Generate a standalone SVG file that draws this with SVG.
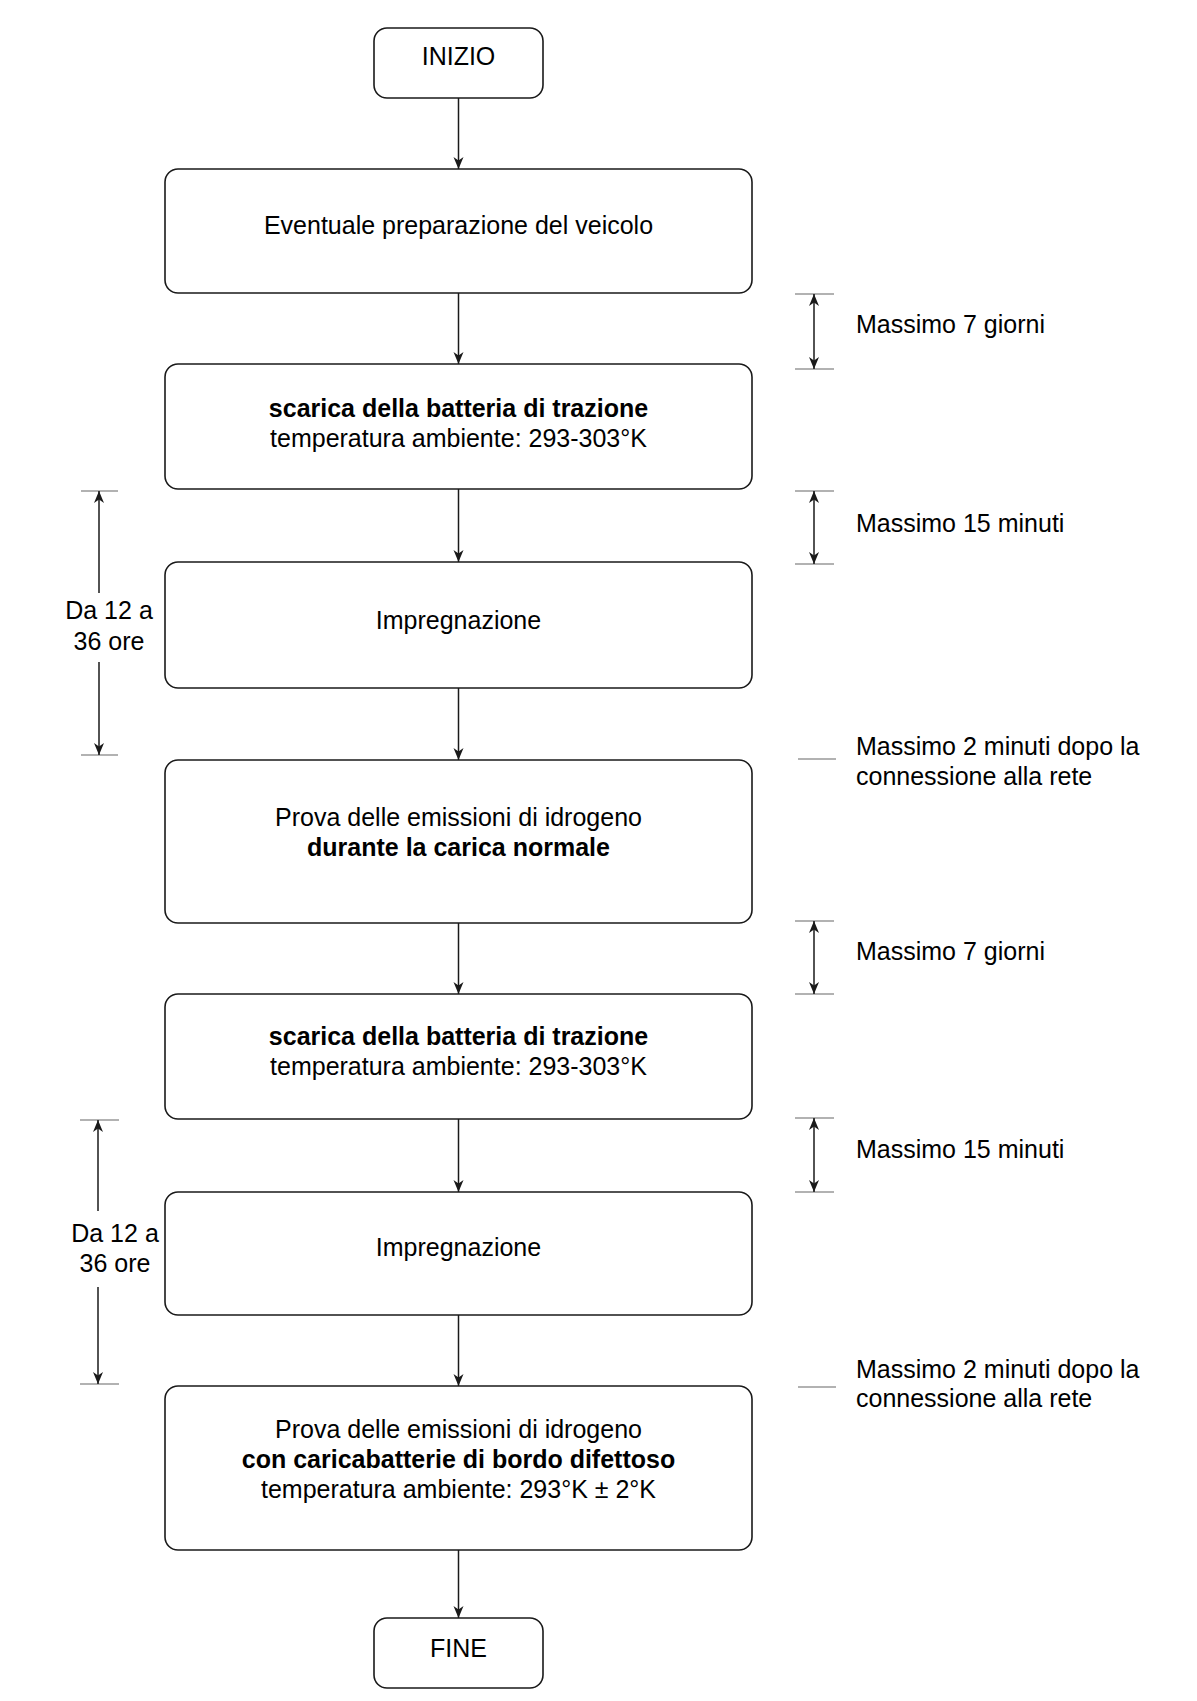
<svg xmlns="http://www.w3.org/2000/svg" width="1197" height="1701" viewBox="0 0 1197 1701">
<style>
  .box { fill: #ffffff; stroke: #1a1a1a; stroke-width: 1.6; }
  .t { font-family: "Liberation Sans", Arial, Helvetica, sans-serif; font-size: 25px; fill: #000; }
  .c { text-anchor: middle; }
  .b { font-weight: bold; }
  .conn { stroke: #1a1a1a; stroke-width: 1.5; fill: none; }
  .tick { stroke: #666; stroke-width: 1.2; fill: none; }
</style>
<defs>
  <marker id="arr" markerUnits="userSpaceOnUse" viewBox="0 0 13 11" markerWidth="13" markerHeight="11" refX="12" refY="5.5" orient="auto-start-reverse">
    <path d="M0,0.5 L12,5.5 L0,10.5 L3.5,5.5 z" fill="#1a1a1a"/>
  </marker>
</defs>
<rect width="1197" height="1701" fill="#ffffff"/>

<g id="connectors">
  <line class="conn" x1="458.5" y1="98" x2="458.5" y2="169" marker-end="url(#arr)"/>
  <line class="conn" x1="458.5" y1="293" x2="458.5" y2="364" marker-end="url(#arr)"/>
  <line class="conn" x1="458.5" y1="489" x2="458.5" y2="562" marker-end="url(#arr)"/>
  <line class="conn" x1="458.5" y1="688" x2="458.5" y2="760" marker-end="url(#arr)"/>
  <line class="conn" x1="458.5" y1="923" x2="458.5" y2="994" marker-end="url(#arr)"/>
  <line class="conn" x1="458.5" y1="1119" x2="458.5" y2="1192" marker-end="url(#arr)"/>
  <line class="conn" x1="458.5" y1="1315" x2="458.5" y2="1386" marker-end="url(#arr)"/>
  <line class="conn" x1="458.5" y1="1550" x2="458.5" y2="1618" marker-end="url(#arr)"/>
</g>

<g id="dimensions">
  <line class="tick" x1="795" y1="294" x2="834" y2="294"/>
  <line class="tick" x1="795" y1="369" x2="834" y2="369"/>
  <line class="conn" x1="814" y1="294" x2="814" y2="369" marker-start="url(#arr)" marker-end="url(#arr)"/>
  <line class="tick" x1="795" y1="491" x2="834" y2="491"/>
  <line class="tick" x1="795" y1="564" x2="834" y2="564"/>
  <line class="conn" x1="814" y1="491" x2="814" y2="564" marker-start="url(#arr)" marker-end="url(#arr)"/>
  <line class="tick" x1="798" y1="759" x2="836" y2="759"/>
  <line class="tick" x1="795" y1="921" x2="834" y2="921"/>
  <line class="tick" x1="795" y1="994" x2="834" y2="994"/>
  <line class="conn" x1="814" y1="921" x2="814" y2="994" marker-start="url(#arr)" marker-end="url(#arr)"/>
  <line class="tick" x1="795" y1="1118" x2="834" y2="1118"/>
  <line class="tick" x1="795" y1="1192" x2="834" y2="1192"/>
  <line class="conn" x1="814" y1="1118" x2="814" y2="1192" marker-start="url(#arr)" marker-end="url(#arr)"/>
  <line class="tick" x1="798" y1="1387" x2="836" y2="1387"/>
  <line class="tick" x1="81" y1="491" x2="118" y2="491"/>
  <line class="tick" x1="81" y1="755" x2="118" y2="755"/>
  <line class="conn" x1="99" y1="491" x2="99" y2="755" marker-start="url(#arr)" marker-end="url(#arr)"/>
  <rect x="64" y="593" width="90" height="69" fill="#ffffff"/>
  <line class="tick" x1="80" y1="1120" x2="119" y2="1120"/>
  <line class="tick" x1="80" y1="1384" x2="119" y2="1384"/>
  <line class="conn" x1="98" y1="1120" x2="98" y2="1384" marker-start="url(#arr)" marker-end="url(#arr)"/>
  <rect x="70" y="1211" width="90" height="76" fill="#ffffff"/>
</g>

<g id="labels">
  <text class="t" x="856" y="333">Massimo 7 giorni</text>
  <text class="t" x="856" y="532">Massimo 15 minuti</text>
  <text class="t" x="856" y="755">Massimo 2 minuti dopo la</text>
  <text class="t" x="856" y="785">connessione alla rete</text>
  <text class="t" x="856" y="960">Massimo 7 giorni</text>
  <text class="t" x="856" y="1158">Massimo 15 minuti</text>
  <text class="t" x="856" y="1378">Massimo 2 minuti dopo la</text>
  <text class="t" x="856" y="1407">connessione alla rete</text>
  <text class="t c" x="109" y="619">Da 12 a</text>
  <text class="t c" x="109" y="650">36 ore</text>
  <text class="t c" x="115" y="1242">Da 12 a</text>
  <text class="t c" x="115" y="1272">36 ore</text>
</g>

<g id="inizio">
  <rect class="box" x="374" y="28" width="169" height="70" rx="13" ry="13"/>
  <text class="t c" x="458.5" y="65">INIZIO</text>
</g>
<g id="preparazione">
  <rect class="box" x="165" y="169" width="587" height="124" rx="13" ry="13"/>
  <text class="t c" x="458.5" y="234">Eventuale preparazione del veicolo</text>
</g>
<g id="scarica1">
  <rect class="box" x="165" y="364" width="587" height="125" rx="13" ry="13"/>
  <text class="t c b" x="458.5" y="417">scarica della batteria di trazione</text>
  <text class="t c" x="458.5" y="447">temperatura ambiente: 293-303°K</text>
</g>
<g id="impregnazione1">
  <rect class="box" x="165" y="562" width="587" height="126" rx="13" ry="13"/>
  <text class="t c" x="458.5" y="629">Impregnazione</text>
</g>
<g id="prova1">
  <rect class="box" x="165" y="760" width="587" height="163" rx="13" ry="13"/>
  <text class="t c" x="458.5" y="826">Prova delle emissioni di idrogeno</text>
  <text class="t c b" x="458.5" y="856">durante la carica normale</text>
</g>
<g id="scarica2">
  <rect class="box" x="165" y="994" width="587" height="125" rx="13" ry="13"/>
  <text class="t c b" x="458.5" y="1045">scarica della batteria di trazione</text>
  <text class="t c" x="458.5" y="1075">temperatura ambiente: 293-303°K</text>
</g>
<g id="impregnazione2">
  <rect class="box" x="165" y="1192" width="587" height="123" rx="13" ry="13"/>
  <text class="t c" x="458.5" y="1256">Impregnazione</text>
</g>
<g id="prova2">
  <rect class="box" x="165" y="1386" width="587" height="164" rx="13" ry="13"/>
  <text class="t c" x="458.5" y="1438">Prova delle emissioni di idrogeno</text>
  <text class="t c b" x="458.5" y="1468">con caricabatterie di bordo difettoso</text>
  <text class="t c" x="458.5" y="1498">temperatura ambiente: 293°K ± 2°K</text>
</g>
<g id="fine">
  <rect class="box" x="374" y="1618" width="169" height="70" rx="13" ry="13"/>
  <text class="t c" x="458.5" y="1657">FINE</text>
</g>
</svg>
